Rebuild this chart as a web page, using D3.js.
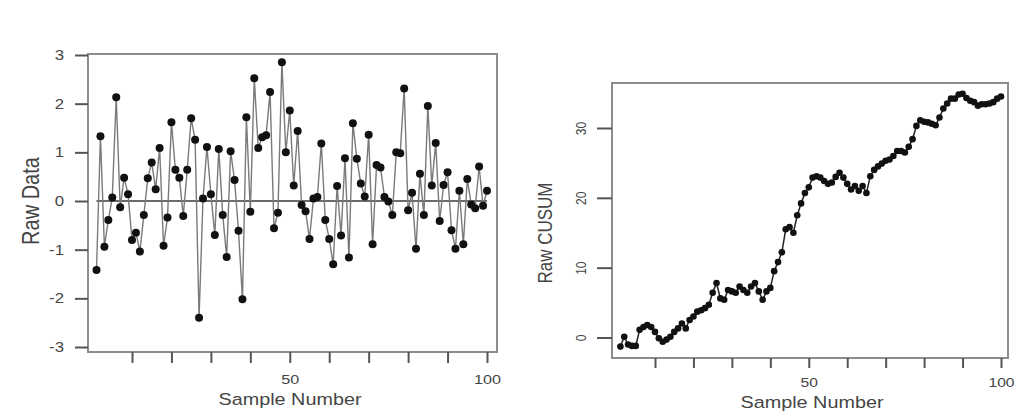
<!DOCTYPE html>
<html>
<head>
<meta charset="utf-8">
<script src="https://cdn.jsdelivr.net/npm/d3@7"></script>
<style>
  body { margin: 0; background: #fff; }
  svg { display: block; }
  text { font-family: "Liberation Sans", Arial, sans-serif; fill: #454545; }
</style>
</head>
<body>
<svg width="1017" height="414"></svg>
<script>
// sample numbers 1..100
const samples = d3.range(1, 101)

const rawData = [
  -1.42, 1.33, -0.94, -0.39, 0.07, 2.13, -0.13, 0.48, 0.14, -0.80,
  -0.65, -1.04, -0.29, 0.47, 0.79, 0.24, 1.09, -0.92, -0.34, 1.62,
  0.64, 0.48, -0.31, 0.64, 1.70, 1.26, -2.40, 0.05, 1.11, 0.14,
  -0.70, 1.07, -0.29, -1.15, 1.02, 0.43, -0.61, -2.02, 1.72, -0.22,
  2.52, 1.09, 1.31, 1.35, 2.24, -0.56, -0.24, 2.85, 1.00, 1.86,
  0.32, 1.44, -0.08, -0.21, -0.78, 0.05, 0.08, 1.18, -0.39, -0.78,
  -1.30, 0.31, -0.71, 0.88, -1.16, 1.60, 0.87, 0.36, 0.09, 1.36,
  -0.89, 0.74, 0.69, 0.08, -0.01, -0.29, 1.00, 0.98, 2.31, -0.19,
  0.17, -0.98, 0.56, -0.29, 1.95, 0.32, 1.19, -0.41, 0.33, 0.59,
  -0.60, -0.98, 0.21, -0.89, 0.45, -0.07, -0.15, 0.71, -0.10, 0.21
]

const cusumData = [
  -1.3, 0.1, -1.0, -1.2, -1.2, 1.1, 1.5, 1.8, 1.5, 0.8,
  -0.1, -0.6, -0.3, 0.1, 0.8, 1.3, 2.0, 1.3, 2.5, 3.0,
  3.7, 3.9, 4.2, 4.7, 6.4, 7.8, 5.6, 5.4, 6.8, 6.6,
  6.4, 7.3, 6.8, 6.4, 7.3, 7.8, 6.6, 5.4, 6.6, 7.1,
  9.5, 10.8, 12.2, 15.5, 15.8, 15.0, 17.5, 19.2, 20.7, 21.5,
  22.9, 23.1, 22.9, 22.4, 22.0, 22.2, 23.0, 23.6, 22.9, 22.0,
  21.2, 21.7, 21.0, 21.7, 20.7, 23.1, 24.0, 24.5, 24.9, 25.3,
  25.5, 26.0, 26.7, 26.7, 26.5, 27.3, 28.4, 30.3, 31.1, 30.9,
  30.8, 30.6, 30.4, 31.5, 32.8, 33.5, 34.2, 34.2, 34.8, 34.9,
  34.3, 33.9, 33.7, 33.2, 33.4, 33.4, 33.5, 33.7, 34.2, 34.5
]

const xTicks = [10, 20, 30, 40, 50, 60, 70, 80, 90, 100]
const xTickLabels = { 50: "50", 100: "100" }
const rawTicks = [-3, -2, -1, 0, 1, 2, 3]
const cusumTicks = [0, 10, 20, 30]

const svg = d3.select("svg")
const stretch = "scale(1.2,1)"   // the scanned text is a bit wide

function cleanAxis(g) {
  g.attr("font-size", null).attr("font-family", null)
  g.select(".domain").remove()
  g.selectAll(".tick line").attr("stroke", "#555").attr("stroke-width", 2)
}

// ---------- left panel: raw data ----------
const xL = d3.scaleLinear().domain([1, 100]).range([96.5, 487])
const yL = d3.scaleLinear().domain([-3, 3]).range([347, 55])

svg.append("rect")
  .attr("x", 88).attr("y", 54).attr("width", 409).attr("height", 298)
  .attr("fill", "none").attr("stroke", "#8c8c8c").attr("stroke-width", 2)

svg.append("line")
  .attr("x1", xL(1)).attr("x2", xL(100))
  .attr("y1", yL(0)).attr("y2", yL(0))
  .attr("stroke", "#3a3a3a").attr("stroke-width", 1.6)

svg.append("path")
  .datum(rawData)
  .attr("d", d3.line().x((d, i) => xL(samples[i])).y(d => yL(d)))
  .attr("fill", "none").attr("stroke", "#7a7a7a").attr("stroke-width", 1.4)

svg.append("g").selectAll("circle")
  .data(rawData)
  .enter().append("circle")
    .attr("cx", (d, i) => xL(samples[i]))
    .attr("cy", d => yL(d))
    .attr("r", 4)
    .attr("fill", "#111")

let ayL = svg.append("g").attr("transform", "translate(88,0)")
  .call(d3.axisLeft(yL).tickValues(rawTicks).tickSize(13).tickPadding(7).tickFormat(d => String(d)))
cleanAxis(ayL)
ayL.selectAll("text").attr("font-size", 14).attr("transform", stretch)

let axL = svg.append("g").attr("transform", "translate(0,352)")
  .call(d3.axisBottom(xL).tickValues(xTicks).tickSize(11).tickPadding(11.5).tickFormat(d => xTickLabels[d] || ""))
cleanAxis(axL)
axL.selectAll("text").attr("font-size", 13.5).attr("transform", stretch)

svg.append("text")
  .attr("transform", "translate(290,405) " + stretch)
  .attr("text-anchor", "middle").attr("font-size", 16.5)
  .text("Sample Number")

svg.append("text")
  .attr("transform", "translate(39,201) " + stretch + " rotate(-90)")
  .attr("text-anchor", "middle").attr("font-size", 20)
  .text("Raw Data")

// ---------- right panel: CUSUM ----------
const xR = d3.scaleLinear().domain([1, 100]).range([620.4, 1001])
const yR = d3.scaleLinear().domain([0, 30]).range([337.5, 128])

svg.append("rect")
  .attr("x", 612).attr("y", 83).attr("width", 396).attr("height", 275)
  .attr("fill", "none").attr("stroke", "#8c8c8c").attr("stroke-width", 2)

svg.append("path")
  .datum(cusumData)
  .attr("d", d3.line().x((d, i) => xR(samples[i])).y(d => yR(d)))
  .attr("fill", "none").attr("stroke", "#222").attr("stroke-width", 1.5)

svg.append("g").selectAll("circle")
  .data(cusumData)
  .enter().append("circle")
    .attr("cx", (d, i) => xR(samples[i]))
    .attr("cy", d => yR(d))
    .attr("r", 3.3)
    .attr("fill", "#111")

let ayR = svg.append("g").attr("transform", "translate(612,0)")
  .call(d3.axisLeft(yR).tickValues(cusumTicks).tickSize(15).tickFormat(d => String(d)))
cleanAxis(ayR)
ayR.selectAll("text")
  .attr("x", null).attr("dy", null)
  .attr("text-anchor", "middle").attr("font-size", 12)
  .attr("transform", "translate(-26,0) " + stretch + " rotate(-90)")

let axR = svg.append("g").attr("transform", "translate(0,358)")
  .call(d3.axisBottom(xR).tickValues(xTicks).tickSize(10).tickPadding(10).tickFormat(d => xTickLabels[d] || ""))
cleanAxis(axR)
axR.selectAll("text").attr("font-size", 13).attr("transform", stretch)

svg.append("text")
  .attr("transform", "translate(812,408) " + stretch)
  .attr("text-anchor", "middle").attr("font-size", 16.5)
  .text("Sample Number")

svg.append("text")
  .attr("transform", "translate(552,233) " + stretch + " rotate(-90)")
  .attr("text-anchor", "middle").attr("font-size", 17)
  .text("Raw CUSUM")
</script>
</body>
</html>
